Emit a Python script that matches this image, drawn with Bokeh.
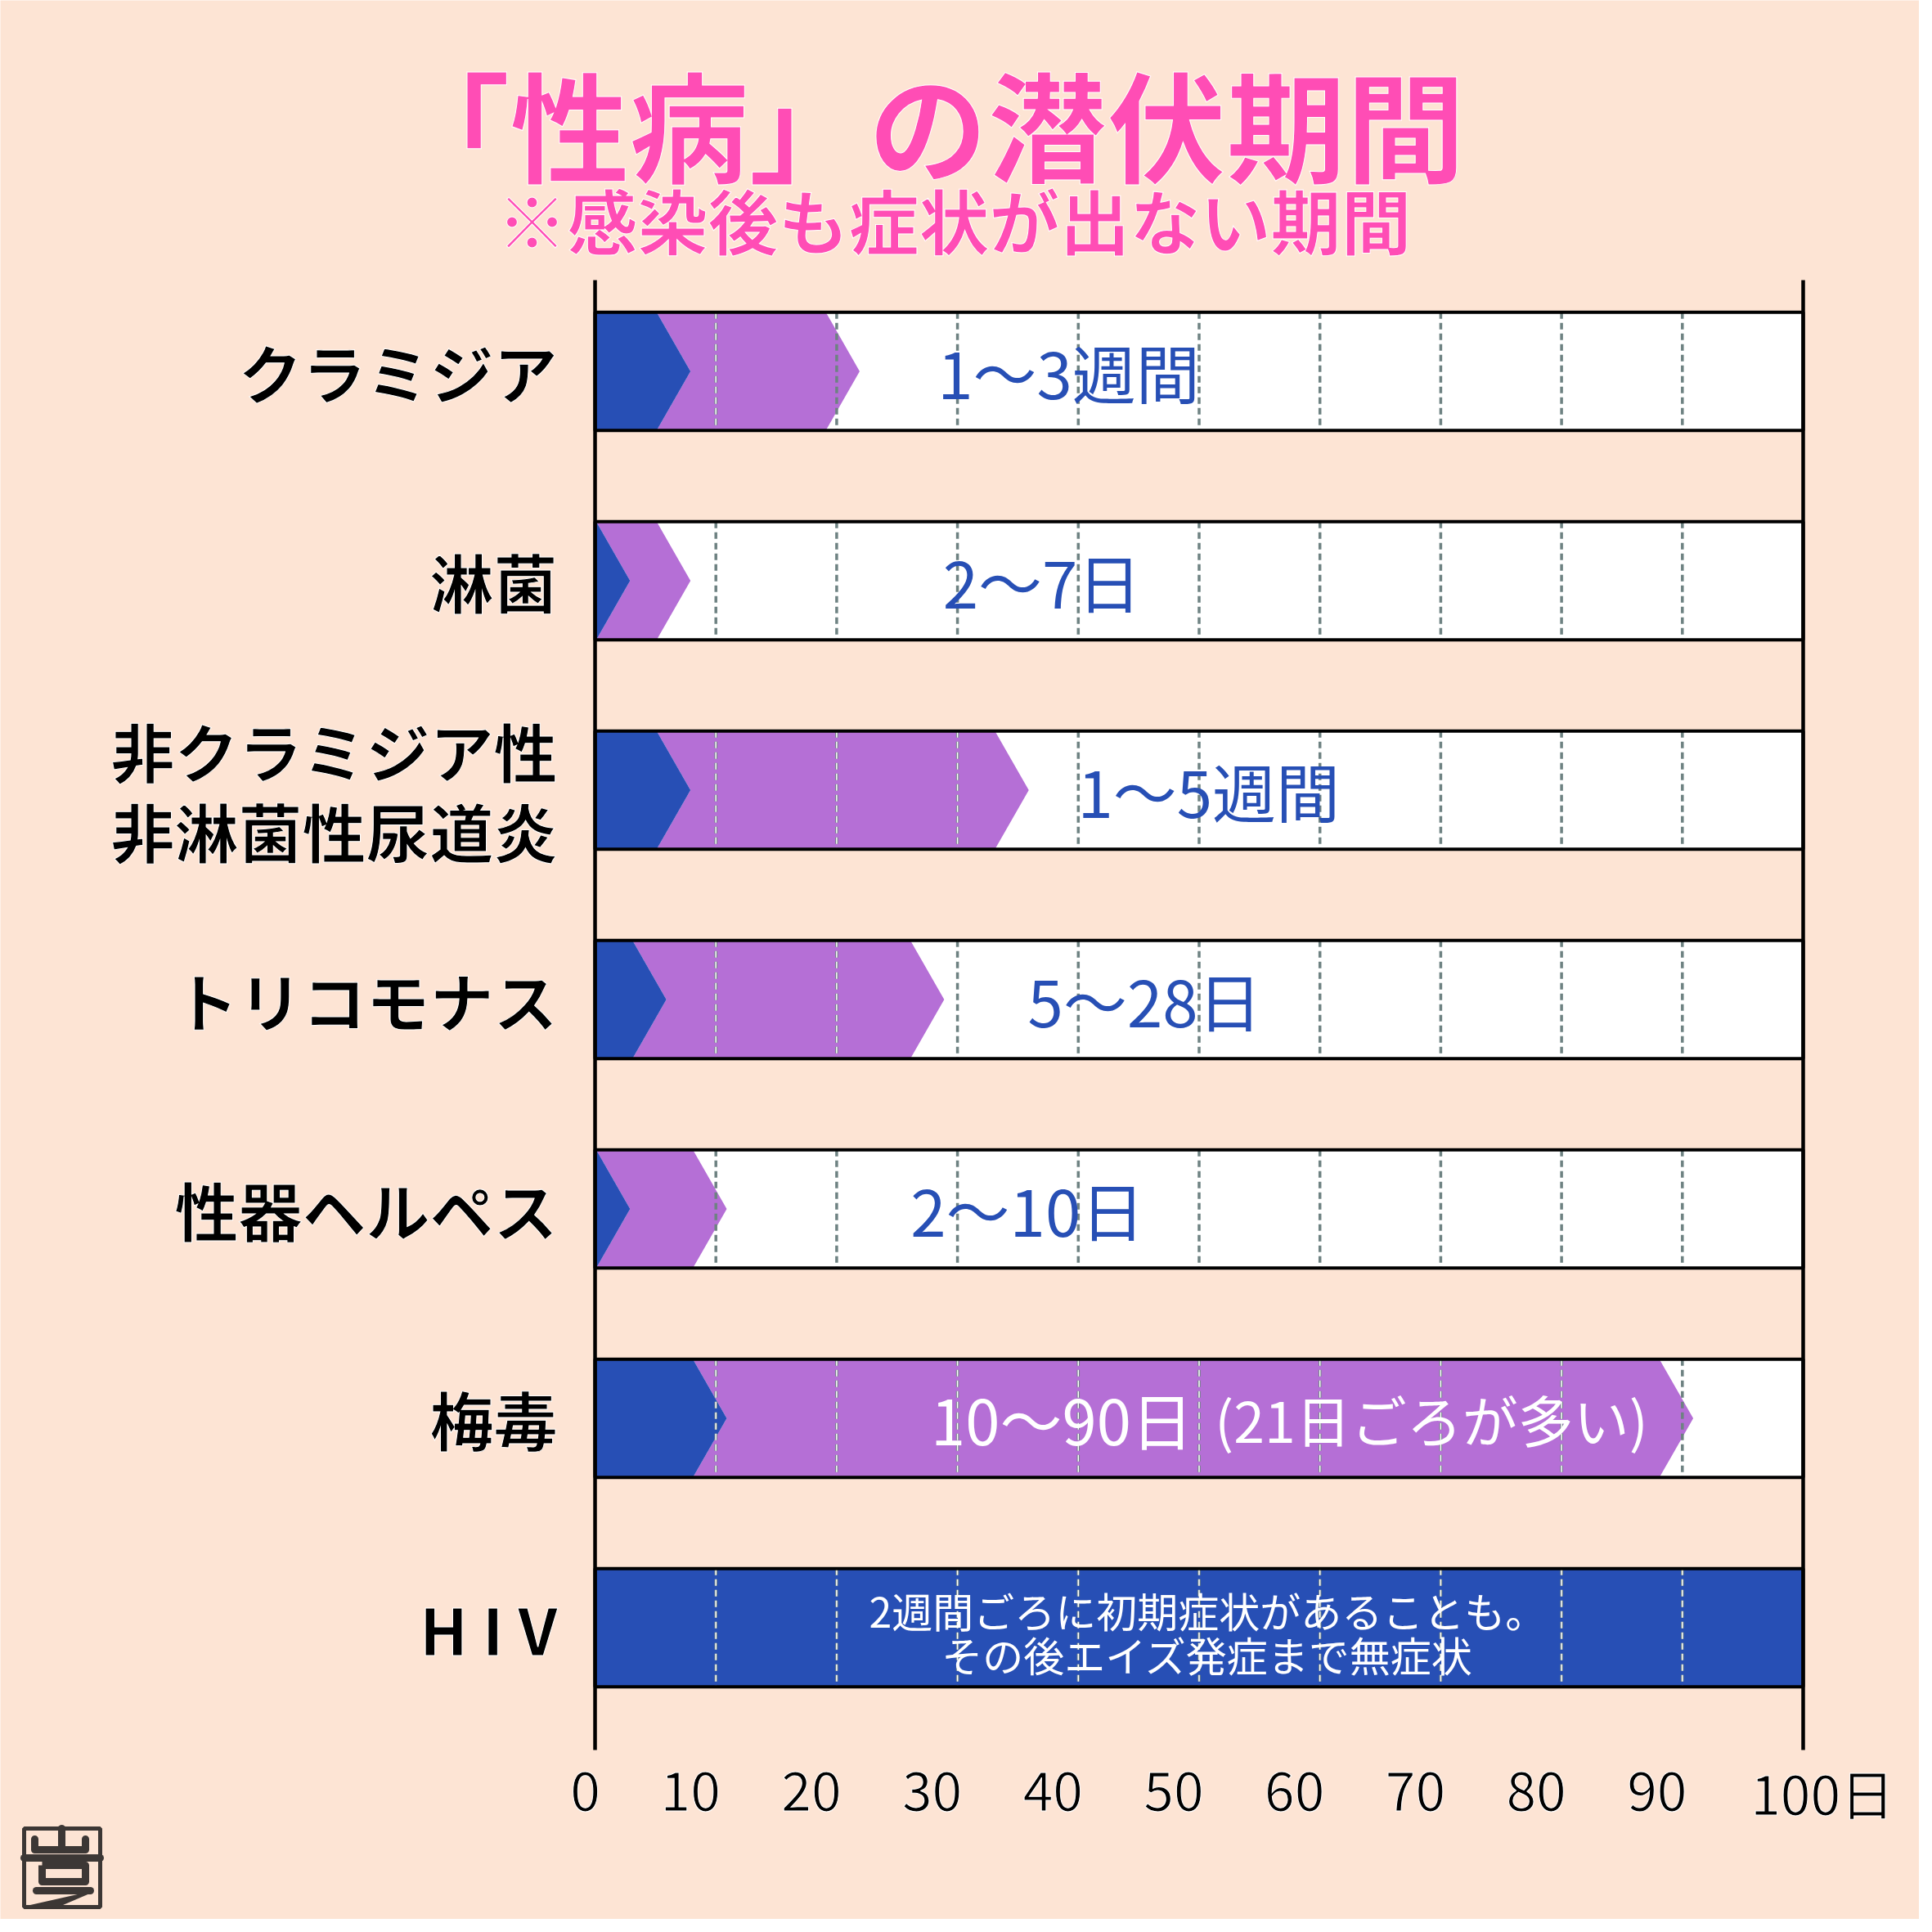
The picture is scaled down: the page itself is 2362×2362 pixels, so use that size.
from bokeh.plotting import figure
from bokeh.models import Range1d
from bokeh.core.properties import value
from bokeh.embed import file_html
from bokeh.resources import INLINE

# ---------------- data ----------------
diseases = ["クラミジア", "淋菌", "非クラミジア性\n非淋菌性尿道炎", "トリコモナス",
            "性器ヘルペス", "梅毒", "H I V"]
early_end = [7, 2, 7, 5, 2, 10, 100]        # blue segment end (days)
late_end = [21, 7, 35, 28, 10, 90, None]    # purple segment end (days)
period_text = ["1〜3週間", "2〜7日", "1〜5週間", "5〜28日", "2〜10日", "10〜90日",
               "2週間ごろに初期症状があることも。\nその後エイズ発症まで無症状"]
syphilis_note = "(21日ごろが多い)"
ticks = [0, 10, 20, 30, 40, 50, 60, 70, 80, 90, 100]
tick_labels = ["0", "10", "20", "30", "40", "50", "60", "70", "80", "90", "100日"]
title_text = "「性病」の潜伏期間"
subtitle_text = "※感染後も症状が出ない期間"

# ---------------- layout / style ----------------
W = H = 2346
X0_PX = 727.0          # canvas px of day 0
PX_PER_DAY = 14.77
ROW0_PX = 453.5        # canvas px of first row centre
ROW_PX = 256.0
BAR_H = 0.565          # in row units
TIP = 0.9
DEPTH = 2.8

BG = "#FDE4D4"
BLUE = "#274FB5"
PURPLE = "#B56FD6"
PINK = "#FF4DB5"
GRID = "#6E8282"
FONT = value("Noto Sans CJK JP")


def dx(px):
    return (px - X0_PX) / PX_PER_DAY


def dy(px):
    return (px - ROW0_PX) / ROW_PX


p = figure(width=W, height=H, output_backend="svg", toolbar_location=None,
           x_range=Range1d(dx(0), dx(W)), y_range=Range1d(dy(H), dy(0)),
           min_border=0, x_axis_location=None, y_axis_location=None)
p.background_fill_color = BG
p.border_fill_color = BG
p.outline_line_color = None
p.xgrid.visible = False
p.ygrid.visible = False

rows = list(range(len(diseases)))
tops = [r - BAR_H / 2 for r in rows]
bots = [r + BAR_H / 2 for r in rows]

# white bar backgrounds
p.quad(left=[0] * len(rows), right=[100] * len(rows), top=tops, bottom=bots,
       fill_color="white", line_color=None)

# chevrons
bxs, bys, pxs, pys = [], [], [], []
colored_extent = []
for r, e, l in zip(rows, early_end, late_end):
    t, b = r - BAR_H / 2, r + BAR_H / 2
    if l is None:
        bxs.append([0, e, e, 0]); bys.append([t, t, b, b])
        colored_extent.append(e)
        continue
    tb = e + TIP
    cb = max(0.0, tb - DEPTH)
    bxs.append([0, cb, tb, cb, 0]); bys.append([t, t, r, b, b])
    tp = l + TIP
    cp = tp - DEPTH
    pxs.append([cb, cp, tp, cp, cb, tb]); pys.append([t, t, r, b, b, r])
    colored_extent.append(cp)
p.patches(pxs, pys, fill_color=PURPLE, line_color=None)
p.patches(bxs, bys, fill_color=BLUE, line_color=None)

# dashed grid inside bars
gx, gy0, gy1, wx, wy0, wy1 = [], [], [], [], [], []
for r, ce in zip(rows, colored_extent):
    for t in ticks[1:-1]:
        gx.append(t); gy0.append(r - BAR_H / 2); gy1.append(r + BAR_H / 2)
        if t < ce:
            wx.append(t); wy0.append(r - BAR_H / 2); wy1.append(r + BAR_H / 2)
p.segment(x0=gx, x1=gx, y0=gy0, y1=gy1, line_color=GRID, line_width=3.5,
          line_dash="8 5")
p.segment(x0=wx, x1=wx, y0=wy0, y1=wy1, line_color="white", line_width=1.5,
          line_dash="8 5")

# bar outlines
p.quad(left=[0] * len(rows), right=[100] * len(rows), top=tops, bottom=bots,
       fill_color=None, line_color="black", line_width=4)

# vertical axis lines at 0 and 100
ax_top = dy(342)
ax_bot = dy(2139)
p.segment(x0=[0, 100], x1=[0, 100], y0=[ax_top] * 2, y1=[ax_bot] * 2,
          line_color="black", line_width=4.5)

# category labels
p.text(x=[dx(681)] * len(rows), y=rows, text=diseases, text_font=FONT,
       text_font_size="78px", text_font_style="bold", text_color="black",
       text_align="right", text_baseline="middle", text_line_height=0.87,
       text_outline_color="white")

# in-bar labels
label_x = [39.2, 37.0, 50.8, 45.5, 35.8]
p.text(x=label_x, y=rows[:5], text=period_text[:5], text_font=FONT,
       text_font_size="78px", text_color=BLUE, text_align="center",
       text_baseline="middle")
p.text(x=[27.8], y=[rows[5]], text=[period_text[5]], text_font=FONT,
       text_font_size="76px", text_color="white", text_align="left",
       text_baseline="middle")
p.text(x=[51.3], y=[rows[5]], text=[syphilis_note], text_font=FONT,
       text_font_size="68px", text_color="white", text_align="left",
       text_baseline="middle")
p.text(x=[50.7], y=[rows[6] + 0.02], text=[period_text[6]], text_font=FONT,
       text_font_size="50px", text_color="white", text_align="center",
       text_baseline="middle", text_line_height=0.74)

# tick labels
nudge = [-0.8] + [-2.1] * 9 + [1.6]
p.text(x=[t + n for t, n in zip(ticks, nudge)], y=[dy(2189)] * len(ticks),
       text=tick_labels, text_font=FONT, text_font_size="66px",
       text_color="black", text_align="center", text_baseline="middle",
       text_outline_color="white")

# title & subtitle
p.text(x=[dx(1134)], y=[dy(148)], text=[title_text], text_font=FONT,
       text_font_size="146px", text_font_style="bold", text_color=PINK,
       text_align="center", text_baseline="middle", text_outline_color="white")
p.text(x=[dx(1166)], y=[dy(267)], text=[subtitle_text], text_font=FONT,
       text_font_size="86px", text_font_style="bold", text_color=PINK,
       text_align="center", text_baseline="middle", text_outline_color="white")

# logo (bottom-left)
LOGO = "#3C3735"
p.quad(left=[dx(29)], right=[dx(122)], top=[dy(2235)], bottom=[dy(2331)],
       fill_color=None, line_color=LOGO, line_width=5)
p.multi_line(xs=[[dx(29), dx(122)], [dx(42), dx(42), dx(104), dx(104)],
                 [dx(75), dx(75)], [dx(44), dx(110)]],
             ys=[[dy(2271), dy(2271)], [dy(2248), dy(2261), dy(2261), dy(2248)],
                 [dy(2235), dy(2261)], [dy(2311), dy(2311)]],
             line_color=LOGO, line_width=9, line_cap="round", line_join="round")
p.multi_line(xs=[[dx(51), dx(104), dx(104), dx(51), dx(51)]],
             ys=[[dy(2280), dy(2280), dy(2300), dy(2300), dy(2280)]],
             line_color=LOGO, line_width=9, line_join="round")
p.patch(x=[dx(110), dx(30), dx(68)], y=[dy(2313), dy(2331), dy(2331)],
        fill_color=LOGO, line_color=LOGO, line_width=2)

open("out.html", "w").write(file_html(p, INLINE))
